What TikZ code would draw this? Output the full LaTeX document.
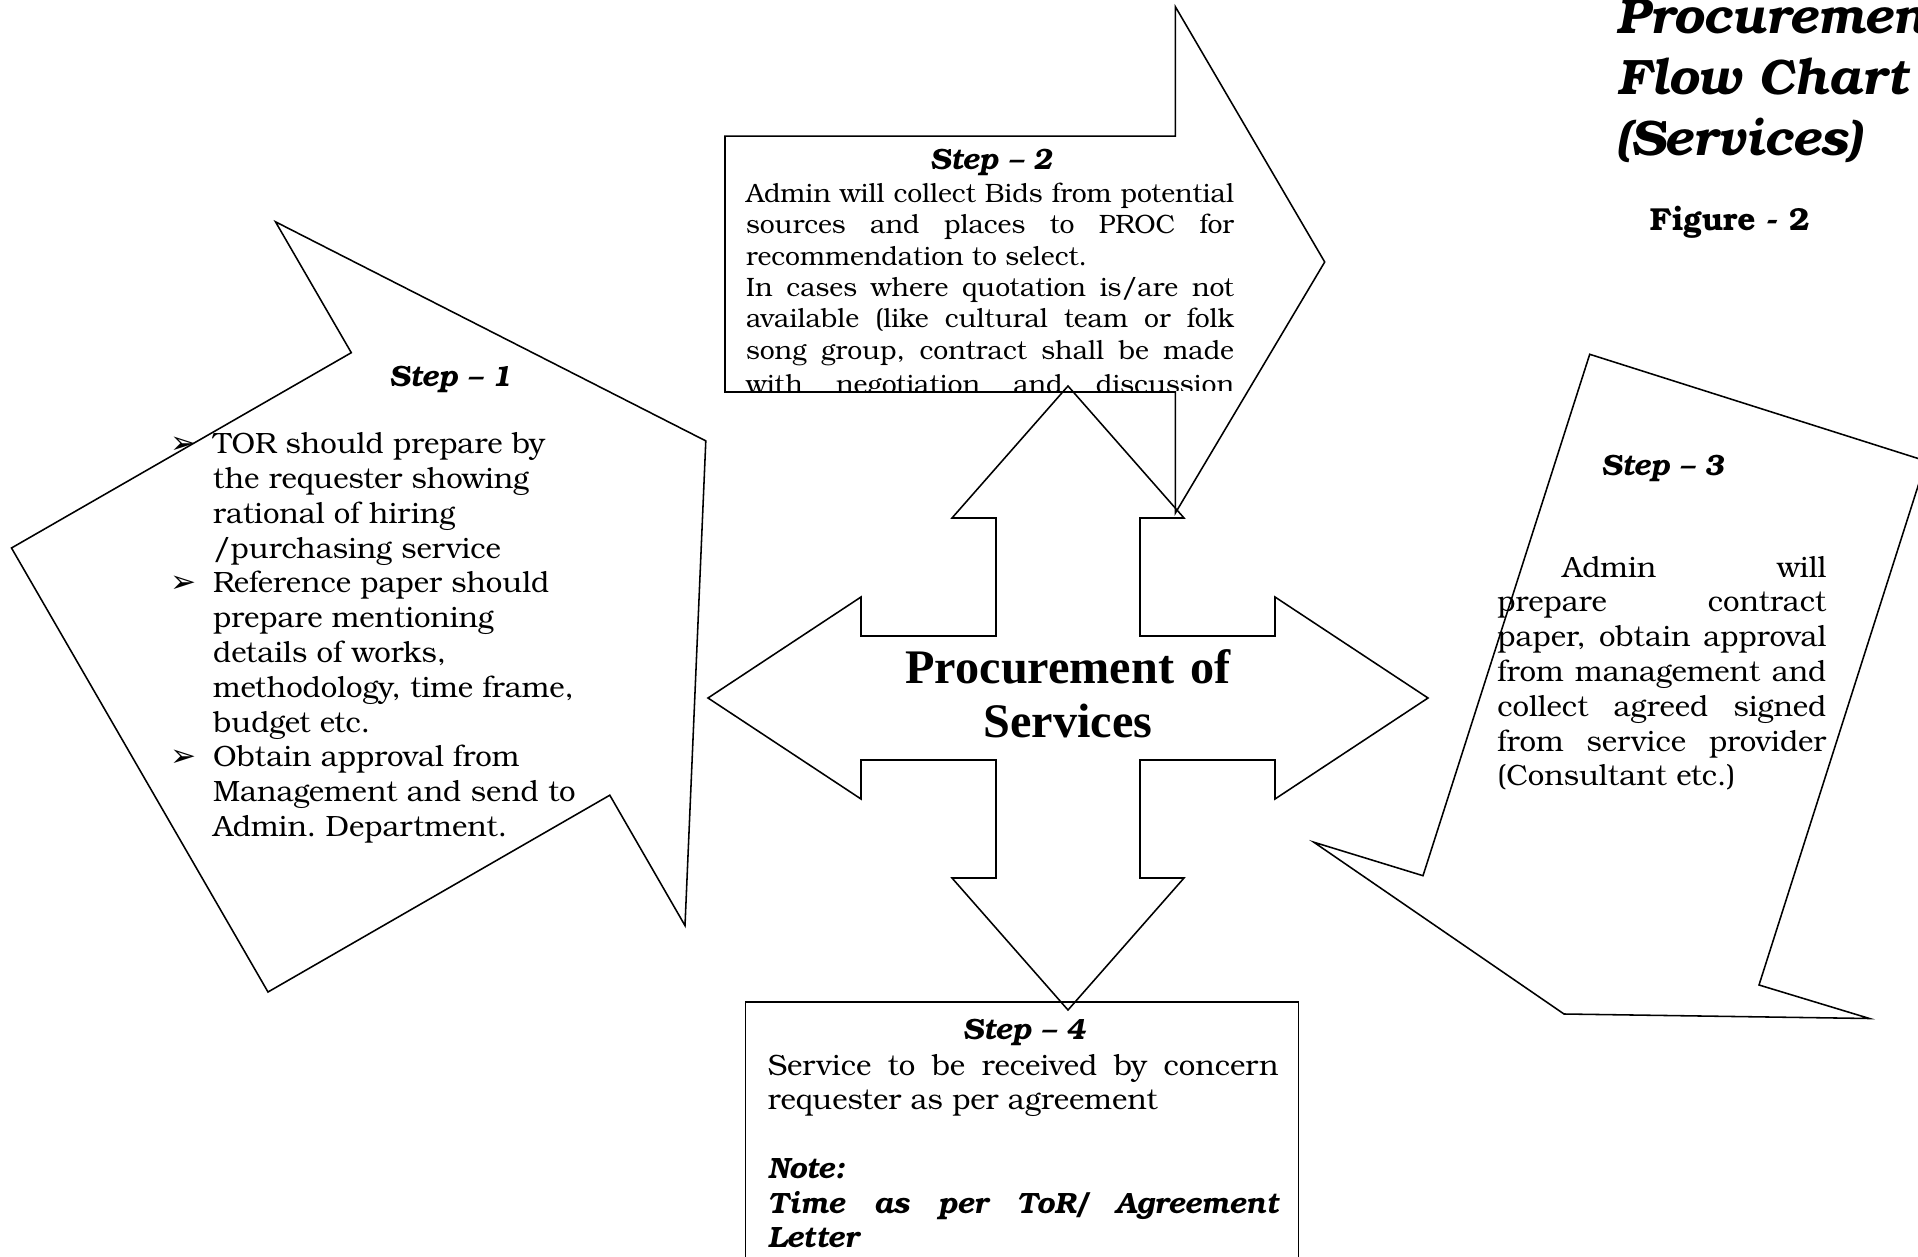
\documentclass[tikz,border=0pt]{standalone}
\usepackage{fontspec}
\setmainfont{TeX Gyre Bonum}
\newfontfamily\tnrfont{Liberation Serif}
\newfontfamily\dejafont{DejaVu Sans}
\frenchspacing
\newcommand\jl[1]{\hbox to\hsize{#1}}
\newcommand\bodyA{\fontsize{13.2}{15.66}\selectfont}
\newcommand\bodyB{\fontsize{11.95}{14.09}\selectfont}
\newcommand\bodyC{\fontsize{13.2}{15.48}\selectfont}
\newcommand\headF{\fontsize{13.2}{15.66}\selectfont\bfseries\itshape}
\newcommand\bul{\leavevmode\strut\hangindent=20.7pt\hangafter=1\makebox[20.7pt][l]{\hspace{1.5pt}\dejafont\fontsize{14}{14}\selectfont ➢}}
\tikzset{
  outline/.style={draw, line width=0.7pt, line join=miter},
  txt/.style={inner sep=0pt, anchor=north west},
  head/.style={inner sep=0pt, anchor=base, font=\headF}
}
\begin{document}
\begin{tikzpicture}[x=0.45pt, y=-0.45pt]
\useasboundingbox (0,0) rectangle (1918,1257);

% Step 1 shape
\draw[outline] (275.5,221.8) -- (705.8,440.9) -- (685,925.6) -- (609.8,795.2)
  -- (268,992) -- (11.5,548) -- (351.3,352.7) -- cycle;
% Step 2 arrow
\draw[outline] (725,136.2) -- (1175.4,136.2) -- (1175.4,6.8) -- (1324.7,262)
  -- (1175.4,513) -- (1175.4,392) -- (725,392) -- cycle;
% Step 3 shape
\draw[outline] (1589.7,354.3) -- (1926,461) -- (1759,985) -- (1869.5,1018.5)
  -- (1564,1014) -- (1313.8,842.2) -- (1423,875.7) -- cycle;
% Step 4 box
\draw[outline] (745.5,1002) rectangle (1298.7,1290);
% central four-way arrow
\draw[outline] (1068,386) -- (1184,518) -- (1140,518) -- (1140,636) -- (1275,636)
  -- (1275,597) -- (1428,698) -- (1275,799) -- (1275,760) -- (1140,760)
  -- (1140,878) -- (1184,878) -- (1068,1010) -- (952,878) -- (996,878)
  -- (996,760) -- (861,760) -- (861,799) -- (708,698) -- (861,597)
  -- (861,636) -- (996,636) -- (996,518) -- (952,518) -- cycle;

% Title
\node[txt] (title) at (1616.7,-9.6)
  {\begin{minipage}[t]{260pt}\fontsize{22.4}{27.5}\selectfont\bfseries\itshape
   \strut Procurement\\Flow Chart\\(Services)\end{minipage}};
\node[inner sep=0pt, anchor=base west, font=\fontsize{14.3}{16}\selectfont\bfseries] (fig) at (1649.3,230.7) {Figure - 2};

% Centre text
\node[inner sep=0pt, anchor=north, text width=300pt, align=center,
      font=\tnrfont\bfseries\fontsize{21.7}{24.6}\selectfont] (centre) at (1068,644.3)
  {\strut Procurement of\\Services};

% Step 1
\node[head] (h1) at (450.5,386.6) {Step – 1};
\node[txt] (t1) at (166.7,428.9) {\begin{minipage}[t]{240pt}\bodyA
\bul TOR should prepare by\\the requester showing\\rational of hiring\\/purchasing service\par
\bul Reference paper should\\prepare mentioning\\details of works,\\methodology, time frame,\\budget etc.\par
\bul Obtain approval from\\Management and send to\\Admin. Department.\par
\end{minipage}};

% Step 2
\node[head] (h2) at (991.2,170) {Step – 2};
\begin{scope}
\clip (725,136.2) rectangle (1330,391);
\node[txt] (t2) at (745.6,180.1) {\begin{minipage}[t]{219.6pt}\bodyB
\strut\jl{Admin will collect Bids from potential}\\
\jl{sources and places to PROC for}\\
recommendation to select.\\
\jl{In cases where quotation is/are not}\\
\jl{available (like cultural team or folk}\\
\jl{song group, contract shall be made}\\[1.6pt]
\jl{with negotiation and discussion}\par
\end{minipage}};
\end{scope}

% Step 3
\node[head] (h3) at (1662.6,475.7) {Step – 3};
\node[txt] (t3) at (1497,552.2) {\begin{minipage}[t]{148pt}\bodyA
\strut\jl{\hspace*{29.25pt}Admin will}\\
\jl{prepare contract}\\
\jl{paper, obtain approval}\\
\jl{from management and}\\
\jl{collect agreed signed}\\
\jl{from service provider}\\
(Consultant etc.)\par
\end{minipage}};

% Step 4
\node[head] (h4) at (1024,1039) {Step – 4};
\node[txt] (t4) at (767.3,1050.9) {\begin{minipage}[t]{229.8pt}\bodyC
\strut\jl{Service to be received by concern}\\
requester as per agreement\\[15.48pt]
{\bfseries\itshape Note:}\\
\jl{\bfseries\itshape Time as per ToR/ Agreement}\\
{\bfseries\itshape Letter}\par
\end{minipage}};
\end{tikzpicture}
\end{document}
